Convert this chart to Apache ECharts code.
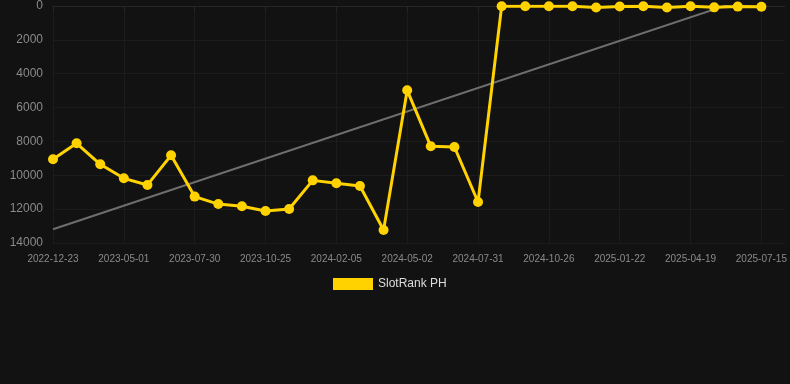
<!DOCTYPE html>
<html>
<head>
<meta charset="utf-8">
<script src="https://cdn.jsdelivr.net/npm/echarts@6/dist/echarts.min.js"></script>
<style>
  html, body { margin: 0; padding: 0; background: #121212; }
  #root { width: 790px; height: 384px; }
</style>
</head>
<body>
<div id="root"></div>
<script>
const dates = [
  '2022-12-23', '2023-02-04', '2023-03-18', '2023-05-01', '2023-05-31', '2023-06-30',
  '2023-07-30', '2023-08-28', '2023-09-26', '2023-10-25', '2023-12-08', '2024-01-21',
  '2024-02-05', '2024-03-05', '2024-04-03', '2024-05-02', '2024-06-01', '2024-07-01',
  '2024-07-31', '2024-08-29', '2024-09-27', '2024-10-26', '2024-11-24', '2024-12-23',
  '2025-01-22', '2025-02-20', '2025-03-21', '2025-04-19', '2025-05-18', '2025-06-16',
  '2025-07-15'
]
const ranks = [
  9050, 8110, 9350, 10180, 10570, 8820,
  11260, 11700, 11830, 12110, 11990, 10300,
  10470, 10630, 13230, 4980, 8290, 8330,
  11580, 15, 12, 10, 20, 90,
  25, 20, 85, 15, 80, 35,
  40
]
const yTicks = [0, 2000, 4000, 6000, 8000, 10000, 12000, 14000]

// least squares trend over the ranks
const trend = (() => {
  const n = ranks.length
  const mx = (n - 1) / 2
  const my = ranks.reduce((a, b) => a + b, 0) / n
  let sxy = 0
  let sxx = 0
  ranks.forEach((y, i) => {
    sxy += (i - mx) * (y - my)
    sxx += (i - mx) * (i - mx)
  })
  const slope = sxy / sxx
  return ranks.map((_, i) => (i === 0 || i === n - 1) ? my + slope * (i - mx) : null)
})()

const font = 'Arial, Liberation Sans, sans-serif'

const chart = echarts.init(document.getElementById('root'))
chart.setOption({
  backgroundColor: '#121212',
  animation: false,
  grid: { left: 53, right: 5, top: 6, bottom: 141 },
  legend: {
    data: ['SlotRank PH'],
    top: 273,
    left: 328,
    icon: 'rect',
    itemWidth: 40,
    itemHeight: 12,
    itemGap: 10,
    textStyle: { color: '#dddddd', fontSize: 12, fontFamily: font }
  },
  xAxis: {
    type: 'category',
    data: dates.concat(['']),
    boundaryGap: false,
    axisLine: { lineStyle: { color: '#262626' } },
    axisTick: { show: true, interval: 2, lineStyle: { color: '#262626' } },
    axisLabel: {
      interval: 2,
      color: '#8a8a8a',
      fontSize: 10,
      margin: 11,
      fontFamily: font
    },
    splitLine: { show: true, interval: 2, lineStyle: { color: '#1c1c1c' } }
  },
  yAxis: {
    type: 'value',
    inverse: true,
    min: yTicks[0],
    max: yTicks[yTicks.length - 1],
    interval: yTicks[1] - yTicks[0],
    axisLine: { show: false },
    axisTick: { show: false },
    axisLabel: {
      color: '#8a8a8a',
      fontSize: 12,
      margin: 10,
      fontFamily: font,
      formatter: v => String(v)
    },
    splitLine: { lineStyle: { color: '#1c1c1c' } }
  },
  series: [
    {
      name: 'trend',
      type: 'line',
      data: trend,
      connectNulls: true,
      showSymbol: false,
      symbol: 'none',
      silent: true,
      clip: true,
      lineStyle: { color: '#6e6e6e', width: 2 },
      z: 1
    },
    {
      name: 'SlotRank PH',
      type: 'line',
      data: ranks,
      symbol: 'circle',
      symbolSize: 10,
      itemStyle: { color: '#ffd200' },
      lineStyle: { color: '#ffd200', width: 3 },
      z: 2
    }
  ]
})
</script>
</body>
</html>
